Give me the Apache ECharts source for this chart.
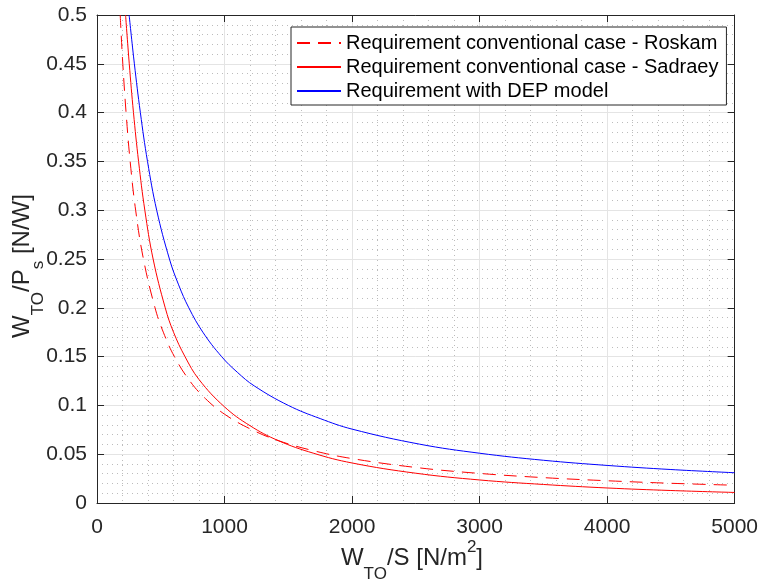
<!DOCTYPE html>
<html>
<head>
<meta charset="utf-8">
<script src="https://cdn.jsdelivr.net/npm/echarts@6/dist/echarts.min.js"></script>
<style>
html,body{margin:0;padding:0;background:#fff;}
#c{width:761px;height:587px;}
</style>
</head>
<body>
<div id="c"></div>
<script>
// ---- data ----
const xTickLabels = ['0', '1000', '2000', '3000', '4000', '5000'];
const yTickLabels = ['0', '0.05', '0.1', '0.15', '0.2', '0.25', '0.3', '0.35', '0.4', '0.45', '0.5'];

const seriesNames = [
  'Requirement conventional case - Roskam',
  'Requirement conventional case - Sadraey',
  'Requirement with DEP model'
];

const xRoskam = [182, 200, 228, 260, 303, 364, 455, 520, 607, 728, 850, 1000, 1200, 1420, 1700, 2000, 2500, 3000, 3500, 4000, 4500, 5000];
const yRoskam = [0.5, 0.455, 0.4, 0.35, 0.3, 0.25, 0.2, 0.175, 0.15, 0.125, 0.107, 0.091, 0.076, 0.064, 0.0535, 0.0455, 0.0364, 0.0303, 0.026, 0.0228, 0.0202, 0.0182];

const xSadraey = [224, 253, 286, 326, 375, 440, 535, 600, 690, 800, 1000, 1200, 1420, 1700, 2000, 2500, 3000, 3500, 4000, 4500, 5000];
const ySadraey = [0.5, 0.45, 0.4, 0.35, 0.3, 0.25, 0.2, 0.175, 0.15, 0.1265, 0.0985, 0.0792, 0.064, 0.0509, 0.041, 0.0305, 0.0236, 0.019, 0.0154, 0.0128, 0.0108];

const xDEP = [252, 293, 340, 396, 468, 568, 640, 720, 830, 977, 1100, 1233, 1500, 1750, 2000, 2529, 3000, 3500, 4000, 4500, 5000];
const yDEP = [0.5, 0.45, 0.4, 0.35, 0.3, 0.25, 0.2235, 0.2, 0.175, 0.15, 0.134, 0.12, 0.1, 0.0865, 0.0757, 0.0603, 0.051, 0.0438, 0.0385, 0.0343, 0.031];

// ---- chart ----
const FONT = '"Liberation Sans", Arial, Helvetica, sans-serif';
const AX = '#262626';
const pairs = (xs, ys) => xs.map((x, i) => [x, ys[i]]);

const chart = echarts.init(document.getElementById('c'), null, {renderer: 'canvas'});

const minorGrid = {show: true, lineStyle: {color: '#bcbcbc', width: 1, type: [1, 4]}};
const majorGrid = {show: true, lineStyle: {color: '#e4e4e4', width: 1}};

function xAxisDef(pos, main) {
  return {
    type: 'value', position: pos, min: 0, max: 5000, interval: 1000,
    axisLine: {show: true, onZero: false, lineStyle: {color: AX, width: 1}},
    axisTick: {show: true, inside: true, length: 7, lineStyle: {color: AX}},
    axisLabel: {show: main, margin: 14, fontSize: 21, fontFamily: FONT, color: AX,
      formatter: v => xTickLabels[Math.round(v / 1000)]},
    splitLine: main ? majorGrid : {show: false},
    minorTick: {show: false, splitNumber: 5},
    minorSplitLine: main ? minorGrid : {show: false}
  };
}
function yAxisDef(pos, main) {
  return {
    type: 'value', position: pos, min: 0, max: 0.5, interval: 0.05,
    axisLine: {show: true, onZero: false, lineStyle: {color: AX, width: 1}},
    axisTick: {show: true, inside: true, length: 7, lineStyle: {color: AX}},
    axisLabel: {show: main, margin: 10, fontSize: 21, fontFamily: FONT, color: AX,
      formatter: v => yTickLabels[Math.round(v / 0.05)]},
    splitLine: main ? majorGrid : {show: false},
    minorTick: {show: false, splitNumber: 5},
    minorSplitLine: main ? minorGrid : {show: false}
  };
}

const titleRich = {
  m: {fontSize: 24, fontFamily: FONT, fill: AX, lineHeight: 50, verticalAlign: 'middle'},
  s: {fontSize: 17, fontFamily: FONT, fill: AX, lineHeight: 21, verticalAlign: 'bottom'},
  p: {fontSize: 17, fontFamily: FONT, fill: AX, lineHeight: 24, verticalAlign: 'top', padding: [6, 0, 0, 0]}
};

const option = {
  animation: false,
  backgroundColor: '#ffffff',
  grid: {left: 97, right: 25, top: 15, bottom: 84, containLabel: false},
  xAxis: [xAxisDef('bottom', true), xAxisDef('top', false)],
  yAxis: [yAxisDef('left', true), yAxisDef('right', false)],
  legend: {
    orient: 'vertical', left: 291, top: 27,
    data: seriesNames,
    itemWidth: 44, itemHeight: 14, itemGap: 0,
    padding: [4, 8, 2, 5],
    borderColor: AX, borderWidth: 1, backgroundColor: '#ffffff',
    itemStyle: {opacity: 0},
    textStyle: {fontSize: 20, fontFamily: FONT, color: '#000', lineHeight: 24},
    selectedMode: false
  },
  series: [
    {name: seriesNames[0], type: 'line', data: pairs(xRoskam, yRoskam), symbol: 'none', smooth: 0.4,
     lineStyle: {color: '#ff0000', width: 1, type: [13, 8]}, itemStyle: {color: '#ff0000'}, z: 3},
    {name: seriesNames[1], type: 'line', data: pairs(xSadraey, ySadraey), symbol: 'none', smooth: 0.4,
     lineStyle: {color: '#ff0000', width: 1}, itemStyle: {color: '#ff0000'}, z: 3},
    {name: seriesNames[2], type: 'line', data: pairs(xDEP, yDEP), symbol: 'none', smooth: 0.4,
     lineStyle: {color: '#0000ff', width: 1}, itemStyle: {color: '#0000ff'}, z: 3}
  ],
  graphic: [
    {type: 'text', x: 412, y: 558, z: 10,
     style: {text: '{m|W}{s|TO}{m|/S [N/m}{p|2}{m|]}', rich: titleRich, align: 'center', verticalAlign: 'middle',
             fontSize: 24, fontFamily: FONT, fill: AX}},
    {type: 'text', x: 22, y: 266, rotation: Math.PI / 2, z: 10,
     style: {text: '{m|W}{s|TO}{m|/P}{s|s}{m| [N/W]}', rich: titleRich, align: 'center', verticalAlign: 'middle',
             fontSize: 24, fontFamily: FONT, fill: AX}}
  ]
};
chart.setOption(option);
</script>
</body>
</html>
